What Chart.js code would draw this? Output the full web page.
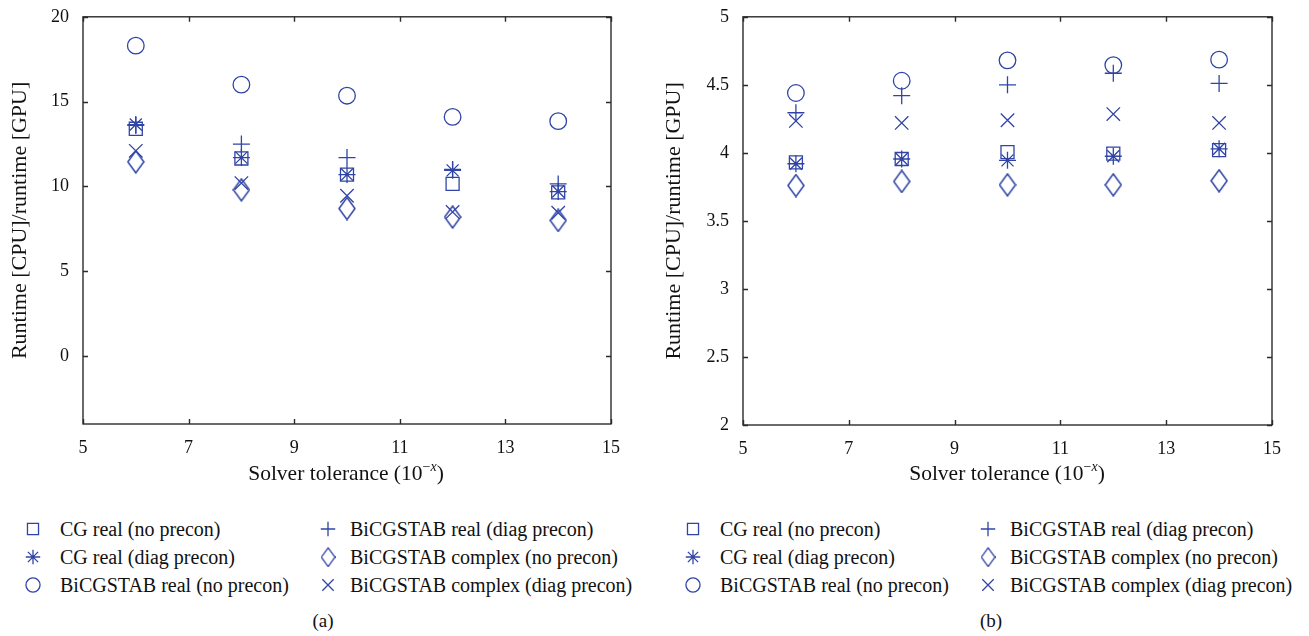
<!DOCTYPE html>
<html>
<head>
<meta charset="utf-8">
<script src="https://cdn.jsdelivr.net/npm/chart.js@4.4.0/dist/chart.umd.min.js"></script>
<style>
  body { margin: 0; background: #fff; width: 1309px; height: 636px; position: relative; overflow: hidden;
         font-family: "Liberation Serif", "Times New Roman", serif; color: #111; }
  .box { position: absolute; top: 0; height: 490px; }
  .xtitle { position: absolute; font-size: 21.5px; white-space: nowrap; transform: translate(-50%, -50%); }
  .xtitle sup { font-size: 14px; vertical-align: 9px; line-height: 0; }
  .leg { position: absolute; font-size: 20px; white-space: nowrap; transform: translateY(-50%); }
  .icon { position: absolute; }
  .caption { position: absolute; font-size: 19px; transform: translate(-50%, -50%); }
</style>
</head>
<body>
<div class="box" style="left:0;width:654px"><canvas id="chartA" width="654" height="490"></canvas></div>
<div class="box" style="left:654px;width:655px"><canvas id="chartB" width="655" height="490"></canvas></div>
<div class="xtitle" style="left:346px;top:473px">Solver tolerance (10<sup>−<i>x</i></sup>)</div>
<div class="xtitle" style="left:1007px;top:473px">Solver tolerance (10<sup>−<i>x</i></sup>)</div>
<div id="legends"></div>
<div class="caption" style="left:323px;top:621px">(a)</div>
<div class="caption" style="left:991px;top:621px">(b)</div>
<script>
// -------- Data --------
const tolerances = [6, 8, 10, 12, 14];
const xTickValues = [5, 7, 9, 11, 13, 15];
const yTicksA = [0, 5, 10, 15, 20];
const yTicksB = [2, 2.5, 3, 3.5, 4, 4.5, 5];

const seriesNames = [
  'CG real (no precon)',
  'CG real (diag precon)',
  'BiCGSTAB real (no precon)',
  'BiCGSTAB real (diag precon)',
  'BiCGSTAB complex (no precon)',
  'BiCGSTAB complex (diag precon)'
];

// panel (a)
const cgNoA      = [13.4, 11.65, 10.7, 10.15, 9.65];
const cgDiagA    = [13.65, 11.7, 10.7, 10.95, 9.7];
const bicgNoA    = [18.3, 16.0, 15.35, 14.1, 13.85];
const bicgDiagA  = [13.6, 12.5, 11.7, 11.0, 10.15];
const cplxNoA    = [11.45, 9.8, 8.7, 8.2, 8.0];
const cplxDiagA  = [12.1, 10.2, 9.45, 8.5, 8.45];

// panel (b)
const cgNoB      = [3.93, 3.955, 4.005, 3.995, 4.02];
const cgDiagB    = [3.92, 3.955, 3.945, 3.975, 4.03];
const bicgNoB    = [4.44, 4.53, 4.68, 4.645, 4.685];
const bicgDiagB  = [4.295, 4.42, 4.5, 4.585, 4.51];
const cplxNoB    = [3.76, 3.79, 3.765, 3.765, 3.795];
const cplxDiagB  = [4.235, 4.22, 4.24, 4.285, 4.22];

// -------- Style --------
const BLUE = '#2f44a6';
const FONT = '"Liberation Serif", "Times New Roman", serif';

// tall diamond marker (MATLAB style)
function makeDiamond(scale) {
  const c = document.createElement('canvas');
  c.width = Math.round(18 * scale); c.height = Math.round(24 * scale);
  const g = c.getContext('2d');
  g.scale(scale, scale);
  g.strokeStyle = BLUE; g.lineWidth = 1.5;
  g.beginPath();
  g.moveTo(9, 1); g.lineTo(17, 12); g.lineTo(9, 23); g.lineTo(1, 12); g.closePath();
  g.stroke();
  return c;
}
const diamond = makeDiamond(1);
const diamondSmall = makeDiamond(0.85);

const markers = [
  { style: 'rect', r: 9.2 },
  { style: 'star', r: 8.5 },
  { style: 'circle', r: 8.3 },
  { style: 'cross', r: 8.5 },
  { style: diamond, r: 10 },
  { style: 'crossRot', r: 9.5 }
];

function makeDatasets(series) {
  return series.map((vals, i) => ({
    label: seriesNames[i],
    data: tolerances.map((t, j) => ({ x: t, y: vals[j] })),
    showLine: false,
    pointStyle: markers[i].style,
    pointRadius: markers[i].r,
    pointBorderWidth: 1.3,
    pointBorderColor: BLUE,
    pointBackgroundColor: 'rgba(0,0,0,0)'
  }));
}

// frame with inward ticks on all four sides
const framePlugin = {
  id: 'frame',
  afterDraw(chart) {
    const { ctx, chartArea: a, scales: { x, y } } = chart;
    ctx.save();
    ctx.strokeStyle = '#2b2b2b';
    ctx.lineWidth = 1.4;
    ctx.strokeRect(a.left, a.top, a.right - a.left, a.bottom - a.top);
    ctx.beginPath();
    x.ticks.forEach(t => {
      const px = Math.round(x.getPixelForValue(t.value)) + 0.5;
      ctx.moveTo(px, a.bottom); ctx.lineTo(px, a.bottom - 5);
      ctx.moveTo(px, a.top); ctx.lineTo(px, a.top + 5);
    });
    y.ticks.forEach(t => {
      const py = Math.round(y.getPixelForValue(t.value)) + 0.5;
      ctx.moveTo(a.left, py); ctx.lineTo(a.left + 5, py);
      ctx.moveTo(a.right, py); ctx.lineTo(a.right - 5, py);
    });
    ctx.stroke();
    ctx.restore();
  }
};

function makeChart(id, series, yMin, yMax, yTicks, axisW, padRight, padTop, xAxisH) {
  return new Chart(document.getElementById(id), {
    type: 'scatter',
    data: { datasets: makeDatasets(series) },
    plugins: [framePlugin],
    options: {
      responsive: false,
      animation: false,
      events: [],
      layout: { padding: { left: 0, right: padRight, top: padTop, bottom: 0 } },
      plugins: { legend: { display: false }, tooltip: { enabled: false } },
      scales: {
        x: {
          type: 'linear', min: 5, max: 15,
          grid: { display: false }, border: { display: false },
          afterBuildTicks: s => { s.ticks = xTickValues.map(v => ({ value: v })); },
          afterFit: s => { s.height = xAxisH; },
          ticks: { color: '#111', padding: 5, maxRotation: 0, font: { family: FONT, size: 18 }, callback: v => String(v) }
        },
        y: {
          type: 'linear', min: yMin, max: yMax,
          grid: { display: false }, border: { display: false },
          afterBuildTicks: s => { s.ticks = yTicks.map(v => ({ value: v })); },
          afterFit: s => { s.width = axisW; },
          ticks: { color: '#111', padding: 6, font: { family: FONT, size: 18 }, callback: v => String(v) },
          title: {
            display: true, text: 'Runtime [CPU]/runtime [GPU]', color: '#111',
            font: { family: FONT, size: 22 }, padding: { top: 7, bottom: 0 }
          }
        }
      }
    }
  });
}

// -------- Legends --------
function buildLegend(offsetX) {
  const host = document.getElementById('legends');
  const rowsY = [529, 557, 585];
  const cols = [{ icon: 33, text: 60 }, { icon: 328, text: 350 }];
  seriesNames.forEach((name, i) => {
    const col = cols[Math.floor(i / 3)];
    const y = rowsY[i % 3];
    const c = document.createElement('canvas');
    c.width = 26; c.height = 26;
    c.className = 'icon';
    c.style.left = (offsetX + col.icon - 13) + 'px';
    c.style.top = (y - 13) + 'px';
    host.appendChild(c);
    const g = c.getContext('2d');
    g.strokeStyle = BLUE; g.fillStyle = 'rgba(0,0,0,0)'; g.lineWidth = 1.3;
    const m = markers[i];
    const style = m.style === diamond ? diamondSmall : m.style;
    if (Chart.helpers && Chart.helpers.drawPoint) {
      Chart.helpers.drawPoint(g, { pointStyle: style, radius: m.r * 0.85, borderWidth: 1.3, rotation: 0 }, 13, 13);
    }
    const t = document.createElement('div');
    t.className = 'leg';
    t.textContent = name;
    t.style.left = (offsetX + col.text) + 'px';
    t.style.top = y + 'px';
    host.appendChild(t);
  });
}

window.addEventListener('DOMContentLoaded', () => {
  makeChart('chartA', [cgNoA, cgDiagA, bicgNoA, bicgDiagA, cplxNoA, cplxDiagA], -4, 20, yTicksA, 83, 43, 14, 66);
  makeChart('chartB', [cgNoB, cgDiagB, bicgNoB, bicgDiagB, cplxNoB, cplxDiagB], 2, 5, yTicksB, 89, 37, 12, 65);
  buildLegend(0);
  buildLegend(660);
});
</script>
</body>
</html>
